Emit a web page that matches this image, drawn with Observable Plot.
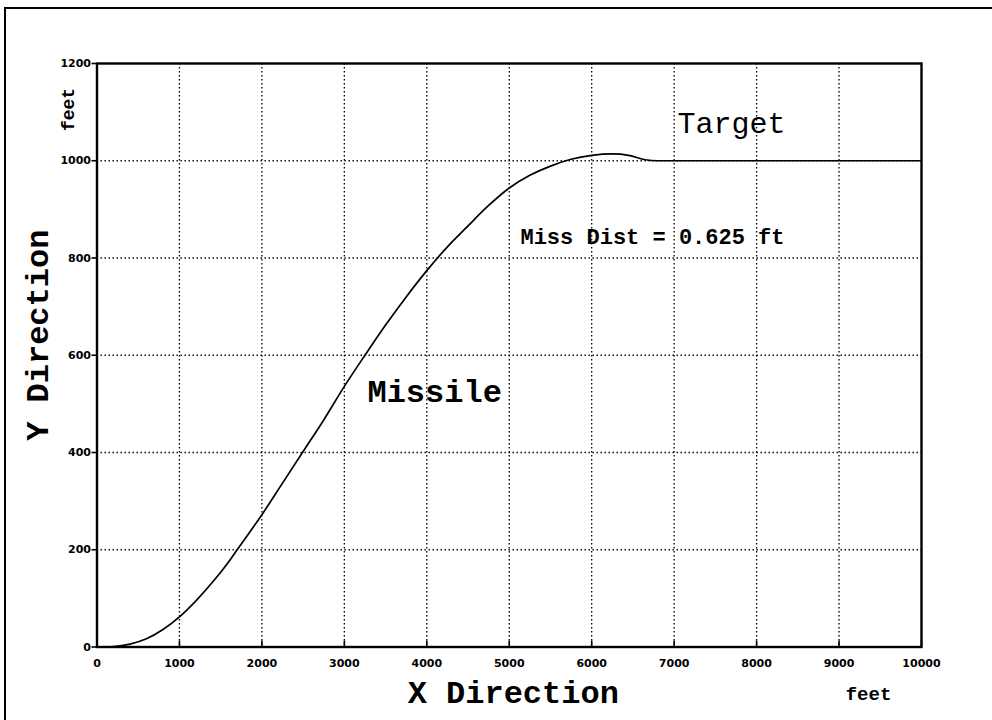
<!DOCTYPE html>
<html><head><meta charset="utf-8">
<script src="https://cdn.jsdelivr.net/npm/d3@7"></script>
<script src="https://cdn.jsdelivr.net/npm/@observablehq/plot@0.6"></script>
<style>
body{margin:0;background:#fff;}
#wrap{position:relative;width:992px;height:720px;overflow:hidden;background:#fff;}
#frame{position:absolute;left:4px;top:7px;width:1000px;height:800px;border-top:2.5px solid #000;border-left:2.5px solid #000;pointer-events:none;}
#chart{position:absolute;left:0;top:0;}
</style></head><body>
<div id="wrap"><div id="chart"></div><div id="frame"></div></div>
<script>
// Missile trajectory (feet)
const xValues = [0, 200, 400, 600, 800, 1000, 1200, 1400, 1600, 1700, 2000, 2250, 2500, 2750, 3000, 3250, 3500, 3750, 4000, 4250, 4500, 4750, 5000, 5250, 5500, 5750, 6000, 6250, 6450, 6650, 6800, 7000, 8000, 9000, 10000];
const yValues = [0, 1, 6, 17, 36, 62, 95, 133, 176, 200, 272, 337, 402, 467, 536, 600, 662, 720, 774, 823, 866, 908, 944, 970, 989, 1003, 1011, 1014, 1011, 1002, 1000, 1000, 1000, 1000, 1000];

const xTicks = [0, 1000, 2000, 3000, 4000, 5000, 6000, 7000, 8000, 9000, 10000];
const yTicks = [0, 200, 400, 600, 800, 1000, 1200];

// annotations (data coordinates)
const noteTexts = ["Target", "Missile", "Miss Dist = 0.625 ft"];
const noteX = [7040, 3280, 5136];
const noteY = [1058, 503, 828];

const data = xValues.map((x, i) => ({x, y: yValues[i]}));
const note = i => [{t: noteTexts[i], x: noteX[i], y: noteY[i]}];

const mono = "'Liberation Mono', 'Courier New', monospace";
const tickFont = "'DejaVu Sans', sans-serif";
const dotted = {stroke: "#000", strokeOpacity: 1, strokeWidth: 1.3, strokeDasharray: "1.4,2.6"};

const plot = Plot.plot({
  width: 992, height: 720,
  marginLeft: 96.5, marginRight: 71, marginTop: 63, marginBottom: 73.5,
  style: {background: "transparent", color: "#000", fontFamily: tickFont},
  x: {domain: [0, 10000]},
  y: {domain: [0, 1200]},
  marks: [
    Plot.gridX(xTicks.slice(1, -1), dotted),
    Plot.gridY(yTicks.slice(1, -1), dotted),
    Plot.axisX({ticks: xTicks, tickSize: 0, tickPadding: 12, tickFormat: d => String(d), fontSize: 11, fontWeight: "bold", letterSpacing: "1.6px", label: null}),
    Plot.axisX({ticks: xTicks, tickSize: 6, dy: -6, text: null, strokeWidth: 1.6, label: null}),
    Plot.axisY({ticks: yTicks, tickSize: 5, tickPadding: 1, tickFormat: d => String(d), fontSize: 11, fontWeight: "bold", letterSpacing: "1.2px", strokeWidth: 1.6, label: null}),
    Plot.line(data, {x: "x", y: "y", stroke: "#000", strokeWidth: 1.7, curve: "monotone-x"}),
    Plot.frame({stroke: "#000", strokeWidth: 2.4}),
    Plot.text(note(0), {x: "x", y: "y", text: "t", fontSize: 30, textAnchor: "start", lineAnchor: "bottom", fontFamily: mono, fill: "#000"}),
    Plot.text(note(1), {x: "x", y: "y", text: "t", fontSize: 32, textAnchor: "start", lineAnchor: "bottom", fontFamily: mono, fontWeight: "bold", fill: "#000"}),
    Plot.text(note(2), {x: "x", y: "y", text: "t", fontSize: 22, textAnchor: "start", lineAnchor: "bottom", fontFamily: mono, fontWeight: "bold", fill: "#000"}),
    Plot.text(["X Direction"], {frameAnchor: "bottom", textAnchor: "middle", dx: 4, dy: 56, lineAnchor: "bottom", fontSize: 32, fontWeight: "bold", fontFamily: mono, fill: "#000"}),
    Plot.text(["feet"], {frameAnchor: "bottom-right", textAnchor: "middle", dx: -53, dy: 53, lineAnchor: "bottom", fontSize: 19, fontWeight: "bold", fontFamily: mono, fill: "#000"}),
    Plot.text(["Y Direction"], {frameAnchor: "left", textAnchor: "middle", dx: -49.5, dy: -20, rotate: -90, lineAnchor: "bottom", fontSize: 32, fontWeight: "bold", fontFamily: mono, fill: "#000"}),
    Plot.text(["feet"], {frameAnchor: "top-left", textAnchor: "middle", dx: -23.5, dy: 46, rotate: -90, lineAnchor: "bottom", fontSize: 18, fontWeight: "bold", fontFamily: mono, fill: "#000"})
  ]
});
document.getElementById("chart").appendChild(plot);
</script>
</body></html>
